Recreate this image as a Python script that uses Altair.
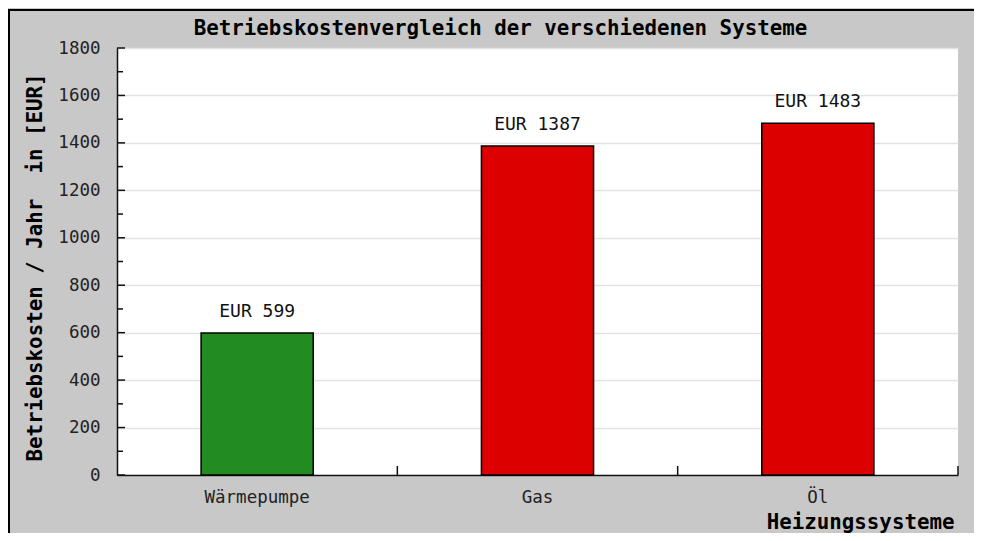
import altair as alt
import pandas as pd

categories = ["Wärmepumpe", "Gas", "Öl"]
costs = [599, 1387, 1483]
labels = ["EUR 599", "EUR 1387", "EUR 1483"]
colors = ["#228B22", "#DD0000", "#DD0000"]
y_major = [0, 200, 400, 600, 800, 1000, 1200, 1400, 1600, 1800]
y_minor = [100, 300, 500, 700, 900, 1100, 1300, 1500, 1700]

W, H = 841, 427
FONT = "DejaVu Sans Mono"

df = pd.DataFrame({"system": categories, "cost": costs, "label": labels})
df_major = pd.DataFrame({"v": y_major})
df_minor = pd.DataFrame({"v": y_minor})
df_one = pd.DataFrame({"a": [0]})

x_scale = alt.Scale(domain=categories, paddingInner=0, paddingOuter=0)
y_scale = alt.Scale(domain=[0, 1800], nice=False)

x_axis = alt.Axis(
    title="Heizungssysteme", labelAngle=0, ticks=False, grid=False,
    domainColor="#111", domainWidth=1.5,
    labelFont=FONT, labelFontSize=17.5, labelColor="#222", labelPadding=13,
    labelBaseline="top",
    titleFont=FONT, titleFontSize=20.8, titleFontWeight="bold", titleColor="#000",
    titleAnchor="end", titleAlign="right", titleX=W - 4, titleY=53, titleBaseline="alphabetic",
)
y_axis = alt.Axis(
    title="Betriebskosten / Jahr \u00a0in [EUR]", values=y_major, ticks=False, format="d",
    grid=True, gridColor="#e2e2e2", gridWidth=1.5,
    domainColor="#111", domainWidth=1.5,
    labelFont=FONT, labelFontSize=17.5, labelColor="#222", labelPadding=17,
    titleFont=FONT, titleFontSize=20.8, titleFontWeight="bold", titleColor="#000",
    titleAngle=270, titleX=-82, titleY=219, titleAlign="center", titleBaseline="middle",
)

X = alt.X("system:N", scale=x_scale, sort=categories, axis=x_axis)
Y = alt.Y("cost:Q", scale=y_scale, axis=y_axis)

bars = alt.Chart(df).mark_bar(
    width=alt.RelativeBandSize(0.4), stroke="#000", strokeWidth=1.5
).encode(
    x=X, y=Y,
    color=alt.Color("system:N", scale=alt.Scale(domain=categories, range=colors), legend=None),
)

text = alt.Chart(df).mark_text(
    dy=-12, baseline="bottom", font=FONT, fontSize=18, color="#111"
).encode(x=X, y=Y, text="label:N")

ymaj = alt.Chart(df_major).mark_rule(color="#111", strokeWidth=1.5).encode(
    y=alt.Y("v:Q", scale=y_scale, axis=y_axis), x=alt.value(0), x2=alt.value(8)
)
ymin = alt.Chart(df_minor).mark_rule(color="#111", strokeWidth=1.5).encode(
    y=alt.Y("v:Q", scale=y_scale, axis=y_axis), x=alt.value(0), x2=alt.value(6)
)
xt = alt.Chart(df).mark_rule(color="#111", strokeWidth=1.5).encode(
    x=alt.X("system:N", scale=x_scale, sort=categories, axis=x_axis, bandPosition=1),
    y=alt.value(H), y2=alt.value(H - 9),
)

border_top = alt.Chart(df_one).mark_rule(color="#000", strokeWidth=2).encode(
    x=alt.value(-109), x2=alt.value(W + 40), y=alt.value(-38), y2=alt.value(-38)
)
border_left = alt.Chart(df_one).mark_rule(color="#000", strokeWidth=2).encode(
    x=alt.value(-108), x2=alt.value(-108), y=alt.value(-39), y2=alt.value(H + 58)
)

chart = alt.layer(bars, text, ymaj, ymin, xt, border_top, border_left).properties(
    width=W, height=H,
    title=alt.TitleParams(
        "Betriebskostenvergleich der verschiedenen Systeme",
        font=FONT, fontSize=20.8, fontWeight="bold", color="#000",
        anchor="middle", frame="group", dx=-37, offset=10, dy=58, baseline="alphabetic",
    ),
    background="#c8c8c8",
    autosize=alt.AutoSizeParams(type="none"),
    padding={"left": 109, "top": 40, "right": 16, "bottom": 58},
).configure_view(fill="white", strokeWidth=0)

chart.save("out.html", embed_options={"renderer": "svg", "actions": False})
